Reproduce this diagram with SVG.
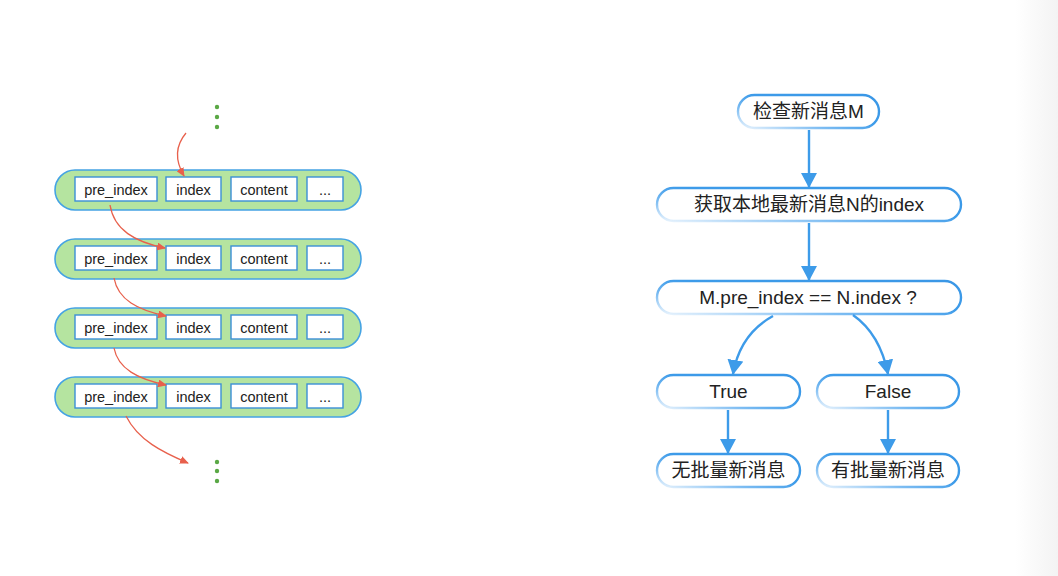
<svg xmlns="http://www.w3.org/2000/svg" width="1058" height="576" viewBox="0 0 1058 576">
<defs>
<style>
.pill{fill:#b5e4a0;stroke:#45a3e3;stroke-width:1.6}
.cell{fill:#fff;stroke:#3b8fd6;stroke-width:1.4}
.ct{font-family:"Liberation Sans","Noto Sans CJK SC",sans-serif;font-size:14.5px;fill:#222;text-anchor:middle}
.dot{fill:#5aa845}
.red{fill:none;stroke:#e8604c;stroke-width:1.3}
.node{fill:#fff;stroke:url(#ns);stroke-width:2.4}
.nt{font-family:"Liberation Sans","Noto Sans CJK SC",sans-serif;font-size:19px;fill:#222;text-anchor:middle}
.blue{fill:none;stroke:#3d9be9;stroke-width:2.4}
</style>
<linearGradient id="ns" x1="0" y1="1" x2="1" y2="0">
<stop offset="0" stop-color="#eaf4fd"/>
<stop offset="0.3" stop-color="#7cbcf2"/>
<stop offset="0.55" stop-color="#3d9be9"/>
<stop offset="1" stop-color="#3a97e6"/>
</linearGradient>
<linearGradient id="bg" x1="0" y1="0" x2="1" y2="0">
<stop offset="0" stop-color="#ffffff"/>
<stop offset="1" stop-color="#f3f3f3"/>
</linearGradient>
<marker id="ra" markerUnits="userSpaceOnUse" viewBox="0 0 9 8" refX="8" refY="4" markerWidth="9" markerHeight="8" orient="auto">
<path d="M0,0 L9,4 L0,8 z" fill="#e8604c"/>
</marker>
<marker id="ba" markerUnits="userSpaceOnUse" viewBox="0 0 15 16" refX="14" refY="8" markerWidth="15" markerHeight="16" orient="auto">
<path d="M0,0 L15,8 L0,16 z" fill="#3d9be9"/>
</marker>
</defs>
<rect width="1058" height="576" fill="#fff"/>
<rect x="1015" y="0" width="43" height="576" fill="url(#bg)"/>

<g id="dots-top">
<circle class="dot" cx="217" cy="107" r="2.2"/>
<circle class="dot" cx="217" cy="117" r="2.2"/>
<circle class="dot" cx="217" cy="127" r="2.2"/>
</g>
<g id="dots-bottom">
<circle class="dot" cx="217" cy="462" r="2.2"/>
<circle class="dot" cx="217" cy="471" r="2.2"/>
<circle class="dot" cx="217" cy="481" r="2.2"/>
</g>

<g id="row1">
<rect class="pill" x="55" y="170" width="306" height="40" rx="20"/>
<rect class="cell" x="75" y="177" width="82" height="24"/><text class="ct" x="116" y="194.5">pre_index</text>
<rect class="cell" x="166" y="177" width="55" height="24"/><text class="ct" x="193.5" y="194.5">index</text>
<rect class="cell" x="231" y="177" width="66" height="24"/><text class="ct" x="264" y="194.5">content</text>
<rect class="cell" x="307" y="177" width="36" height="24"/><text class="ct" x="325" y="194.5">...</text>
</g>
<g id="row2">
<rect class="pill" x="55" y="239" width="306" height="40" rx="20"/>
<rect class="cell" x="75" y="246" width="82" height="24"/><text class="ct" x="116" y="263.5">pre_index</text>
<rect class="cell" x="166" y="246" width="55" height="24"/><text class="ct" x="193.5" y="263.5">index</text>
<rect class="cell" x="231" y="246" width="66" height="24"/><text class="ct" x="264" y="263.5">content</text>
<rect class="cell" x="307" y="246" width="36" height="24"/><text class="ct" x="325" y="263.5">...</text>
</g>
<g id="row3">
<rect class="pill" x="55" y="308" width="306" height="40" rx="20"/>
<rect class="cell" x="75" y="315" width="82" height="24"/><text class="ct" x="116" y="332.5">pre_index</text>
<rect class="cell" x="166" y="315" width="55" height="24"/><text class="ct" x="193.5" y="332.5">index</text>
<rect class="cell" x="231" y="315" width="66" height="24"/><text class="ct" x="264" y="332.5">content</text>
<rect class="cell" x="307" y="315" width="36" height="24"/><text class="ct" x="325" y="332.5">...</text>
</g>
<g id="row4">
<rect class="pill" x="55" y="377" width="306" height="40" rx="20"/>
<rect class="cell" x="75" y="384" width="82" height="24"/><text class="ct" x="116" y="401.5">pre_index</text>
<rect class="cell" x="166" y="384" width="55" height="24"/><text class="ct" x="193.5" y="401.5">index</text>
<rect class="cell" x="231" y="384" width="66" height="24"/><text class="ct" x="264" y="401.5">content</text>
<rect class="cell" x="307" y="384" width="36" height="24"/><text class="ct" x="325" y="401.5">...</text>
</g>

<g id="red-connectors">
<path class="red" d="M186,133 Q170,152 184,176" marker-end="url(#ra)"/>
<path class="red" d="M110,205 C114,230 135,242 165,248" marker-end="url(#ra)"/>
<path class="red" d="M114,278 C118,300 138,310 166,316" marker-end="url(#ra)"/>
<path class="red" d="M114,348 C118,369 138,379 166,385" marker-end="url(#ra)"/>
<path class="red" d="M126,416 C138,440 162,452 188,463" marker-end="url(#ra)"/>
</g>

<g id="n1">
<rect class="node" x="738" y="95" width="141" height="33" rx="16.5"/>
<text class="nt" x="808.5" y="118">检查新消息M</text>
</g>
<g id="n2">
<rect class="node" x="657" y="188" width="304" height="33" rx="16.5"/>
<text class="nt" x="809" y="211">获取本地最新消息N的index</text>
</g>
<g id="n3">
<rect class="node" x="657" y="281" width="304" height="33" rx="16.5"/>
<text class="nt" x="808" y="304">M.pre_index == N.index ?</text>
</g>
<g id="n-true">
<rect class="node" x="657" y="375" width="143" height="33" rx="16.5"/>
<text class="nt" x="728.5" y="398">True</text>
</g>
<g id="n-false">
<rect class="node" x="817" y="375" width="142" height="33" rx="16.5"/>
<text class="nt" x="888" y="398">False</text>
</g>
<g id="n-no">
<rect class="node" x="657" y="454" width="143" height="33" rx="16.5"/>
<text class="nt" x="728.5" y="477">无批量新消息</text>
</g>
<g id="n-yes">
<rect class="node" x="817" y="454" width="142" height="33" rx="16.5"/>
<text class="nt" x="888" y="477">有批量新消息</text>
</g>

<g id="blue-connectors">
<path class="blue" d="M809,130 L809,187" marker-end="url(#ba)"/>
<path class="blue" d="M809,223 L809,280" marker-end="url(#ba)"/>
<path class="blue" d="M773,316 Q740,334 733,374" marker-end="url(#ba)"/>
<path class="blue" d="M853,315 Q880,334 888,374" marker-end="url(#ba)"/>
<path class="blue" d="M728,410 L728,453" marker-end="url(#ba)"/>
<path class="blue" d="M888,410 L888,453" marker-end="url(#ba)"/>
</g>
</svg>
